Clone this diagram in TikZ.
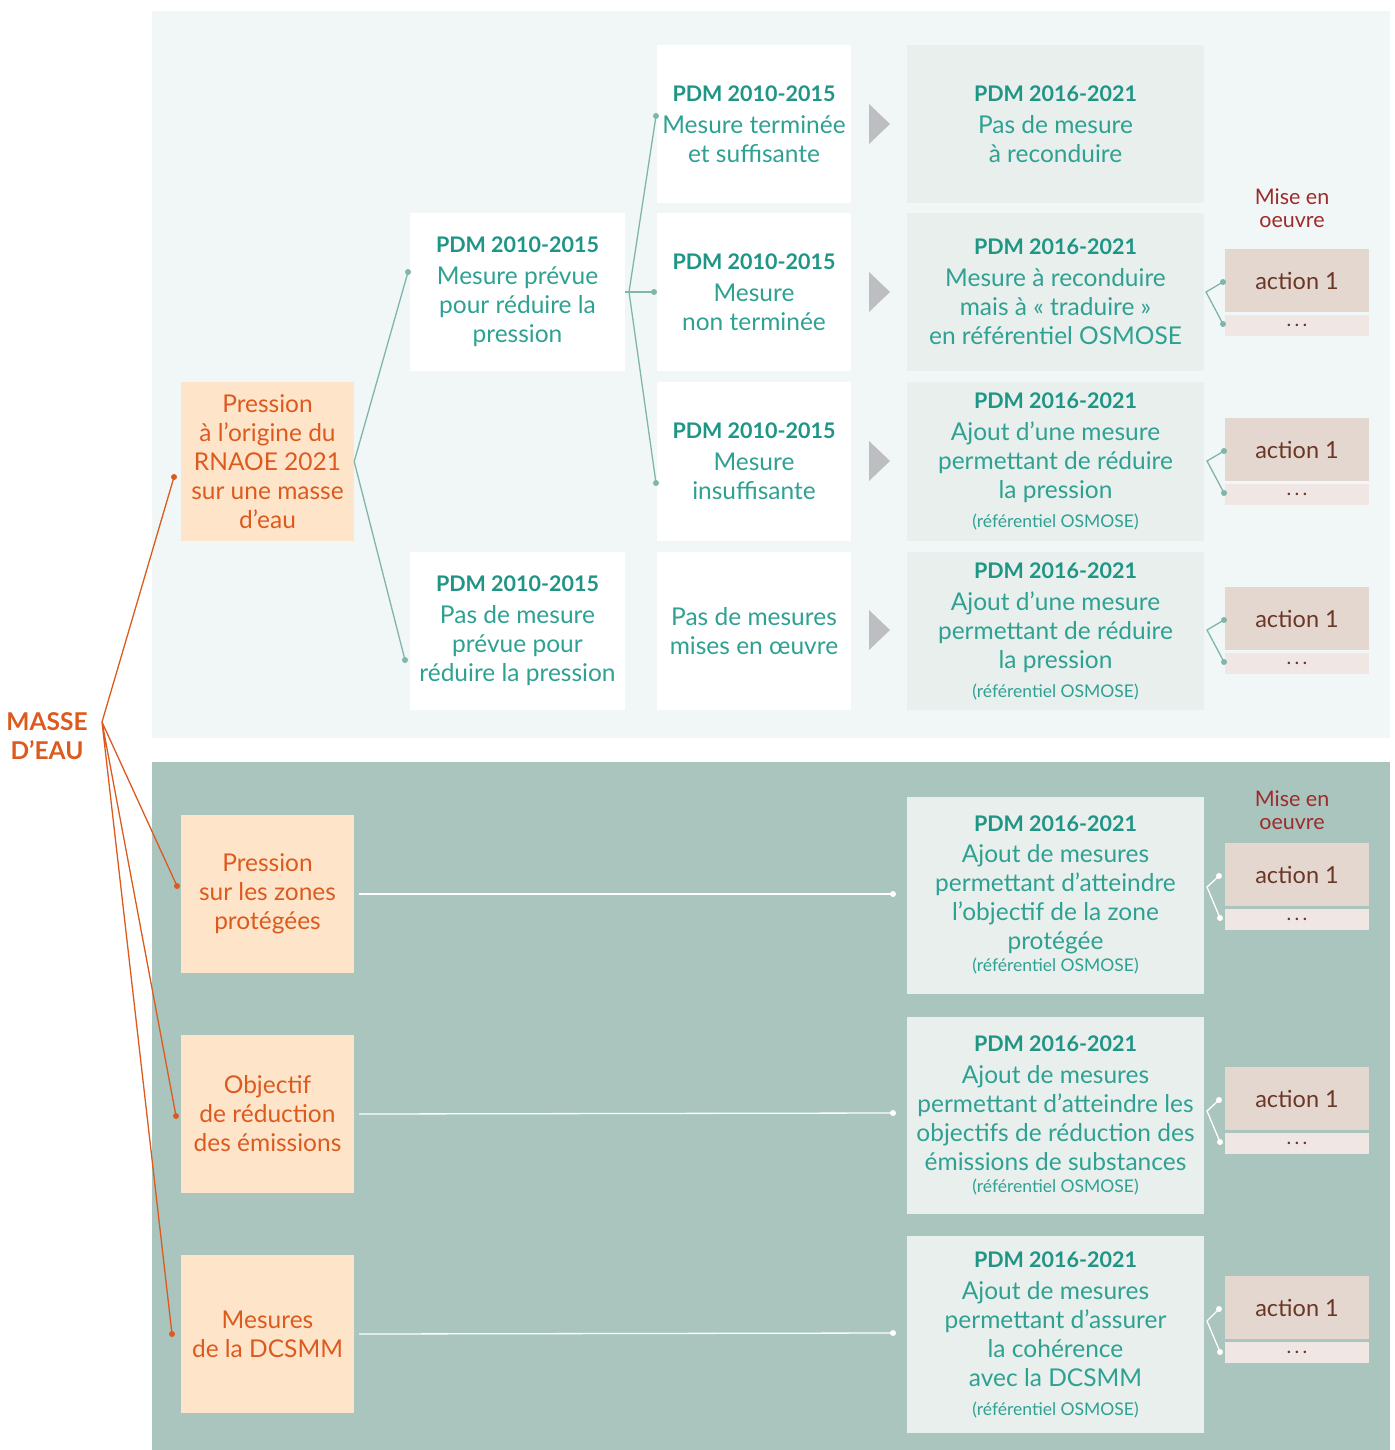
\documentclass[tikz,border=0pt]{standalone}
\usepackage{fontspec}
\setmainfont{Lato}
\definecolor{topbg}{HTML}{F1F7F6}
\definecolor{botbg}{HTML}{A9C5BE}
\definecolor{peach}{HTML}{FEE5C9}
\definecolor{orangetxt}{HTML}{DD5A1F}
\definecolor{tealhd}{HTML}{1F9585}
\definecolor{tealtxt}{HTML}{2FA192}
\definecolor{grayfill}{HTML}{E8EFED}
\definecolor{actfill}{HTML}{E4D7CF}
\definecolor{dotfill}{HTML}{F0E7E4}
\definecolor{acttxt}{HTML}{6B3626}
\definecolor{misetxt}{HTML}{9E2B2B}
\definecolor{tealline}{HTML}{80B6AA}
\definecolor{trigray}{HTML}{BDBEC2}
\newcommand{\pdmhd}[1]{{\fontsize{21.5}{29}\selectfont\bfseries\color{tealhd}#1}}
\newcommand{\refosm}[1]{{\fontsize{17.5}{29}\selectfont #1}}
\begin{document}
\begin{tikzpicture}[x=1pt,y=-1pt,
  bodyfont/.style={font=\fontsize{24.5}{29}\selectfont},
  orbox/.style={bodyfont,fill=peach,text=orangetxt,inner sep=0pt,align=center,minimum width=173pt},
  wbox/.style={bodyfont,fill=white,text=tealtxt,inner sep=0pt,align=center,minimum height=158pt},
  gbox/.style={bodyfont,fill=grayfill,text=tealtxt,inner sep=0pt,align=center,minimum width=297pt},
  actbox/.style={fill=actfill,text=acttxt,inner sep=0pt,minimum width=144pt,minimum height=63pt,font=\fontsize{23.5}{26}\selectfont},
  dotbox/.style={fill=dotfill,text=acttxt,inner sep=0pt,minimum width=144pt,minimum height=21pt,font=\fontsize{20}{20}\selectfont},
  mise/.style={text=misetxt,align=center,inner sep=0pt,font=\fontsize{21.5}{23}\selectfont},
  tconn/.style={draw=tealline,line width=1.3pt},
  wconn/.style={draw=white,line width=1.3pt},
  oconn/.style={draw=orangetxt,line width=1.3pt},
  tdot/.style={fill=tealline},
  wdot/.style={fill=white},
  odot/.style={fill=orangetxt},
  tri/.style={fill=trigray}
]
\useasboundingbox (0,0) rectangle (1394,1450);
% panels
\fill[topbg] (152,11) rectangle (1390,738);
\fill[botbg] (152,762) rectangle (1390,1450);

% title
\node[text=orangetxt,align=center,inner sep=0pt,font=\fontsize{24.5}{29}\selectfont\bfseries] (masse) at (47,736) {MASSE\\D’EAU};

% top section nodes
\node[orbox,minimum height=159pt] (press) at (267.5,461.5) {Pression\\à l’origine du\\RNAOE 2021\\sur une masse\\d’eau};
\node[wbox,minimum width=215pt] (c2a) at (517.5,292) {\pdmhd{PDM 2010-2015}\\[3pt]Mesure prévue\\pour réduire la\\pression};
\node[wbox,minimum width=215pt] (c2b) at (517.5,631) {\pdmhd{PDM 2010-2015}\\[3pt]Pas de mesure\\prévue pour\\réduire la pression};
\node[wbox,minimum width=194pt] (c3a) at (754,124) {\pdmhd{PDM 2010-2015}\\[3pt]Mesure terminée\\et suffisante};
\node[wbox,minimum width=194pt] (c3b) at (754,292) {\pdmhd{PDM 2010-2015}\\[3pt]Mesure\\non terminée};
\node[wbox,minimum width=194pt,minimum height=159pt] (c3c) at (754,461.5) {\pdmhd{PDM 2010-2015}\\[3pt]Mesure\\insuffisante};
\node[wbox,minimum width=194pt] (c3d) at (754,631) {Pas de mesures\\mises en œuvre};
\node[gbox,minimum height=158pt] (c4a) at (1055.5,124) {\pdmhd{PDM 2016-2021}\\[3pt]Pas de mesure\\à reconduire};
\node[gbox,minimum height=158pt] (c4b) at (1055.5,292) {\pdmhd{PDM 2016-2021}\\[3pt]Mesure à reconduire\\mais à « traduire »\\en référentiel OSMOSE};
\node[gbox,minimum height=159pt] (c4c) at (1055.5,461.5) {\pdmhd{PDM 2016-2021}\\[3pt]Ajout d’une mesure\\permettant de réduire\\la pression\\\refosm{(référentiel OSMOSE)}};
\node[gbox,minimum height=158pt] (c4d) at (1055.5,631) {\pdmhd{PDM 2016-2021}\\[3pt]Ajout d’une mesure\\permettant de réduire\\la pression\\\refosm{(référentiel OSMOSE)}};

% triangles
\fill[tri] (869,104) -- (890,124) -- (869,144) -- cycle;
\fill[tri] (869,272) -- (890,292) -- (869,312) -- cycle;
\fill[tri] (869,441) -- (890,461) -- (869,481) -- cycle;
\fill[tri] (869,610) -- (890,630) -- (869,650) -- cycle;

% action boxes top
\node[mise] (mise1) at (1292,208) {Mise en\\oeuvre};
\node[actbox] (a2) at (1297,280.5) {action 1};
\node[dotbox] (d2) at (1297,325.5) {.\,.\,.};
\node[actbox] (a3) at (1297,449.5) {action 1};
\node[dotbox] (d3) at (1297,494.5) {.\,.\,.};
\node[actbox] (a4) at (1297,618.5) {action 1};
\node[dotbox] (d4) at (1297,663.5) {.\,.\,.};

% bottom section nodes
\node[orbox,minimum height=158pt] (p1) at (267.5,894) {Pression\\sur les zones\\protégées};
\node[orbox,minimum height=158pt] (p2) at (267.5,1114) {Objectif\\de réduction\\des émissions};
\node[orbox,minimum height=158pt] (p3) at (267.5,1334) {Mesures\\de la DCSMM};
\node[gbox,minimum height=197pt] (b1) at (1055.5,895) {\pdmhd{PDM 2016-2021}\\[2pt]Ajout de mesures\\permettant d’atteindre\\l’objectif de la zone\\protégée\\[-7pt]\refosm{(référentiel OSMOSE)}};
\node[gbox,minimum height=197pt] (b2) at (1055.5,1115) {\pdmhd{PDM 2016-2021}\\[3pt]Ajout de mesures\\permettant d’atteindre les\\objectifs de réduction des\\émissions de substances\\[-7pt]\refosm{(référentiel OSMOSE)}};
\node[gbox,minimum height=197pt] (b3) at (1055.5,1334.5) {\pdmhd{PDM 2016-2021}\\[3pt]Ajout de mesures\\permettant d’assurer\\la cohérence\\avec la DCSMM\\\refosm{(référentiel OSMOSE)}};

\node[mise] (mise2) at (1292,810) {Mise en\\oeuvre};
\node[actbox] (ba1) at (1297,874.5) {action 1};
\node[dotbox] (bd1) at (1297,919.5) {.\,.\,.};
\node[actbox] (ba2) at (1297,1098.5) {action 1};
\node[dotbox] (bd2) at (1297,1143.5) {.\,.\,.};
\node[actbox] (ba3) at (1297,1307.5) {action 1};
\node[dotbox] (bd3) at (1297,1352.5) {.\,.\,.};

% coordinates for connectors
\coordinate (apex) at (102,722);
\coordinate (o0) at (174,477);
\coordinate (o1) at (177,886);
\coordinate (o2) at (176,1116);
\coordinate (o3) at (172,1334);
\coordinate (j1) at (408,272);
\coordinate (j2) at (405,660);
\coordinate (k) at (629,292);
\coordinate (k1) at (656,116);
\coordinate (k2) at (654,292);
\coordinate (k3) at (656,483);
\coordinate (ap2) at (1206,292);
\coordinate (ap2a) at (1223,282);
\coordinate (ap2b) at (1223,324);
\coordinate (ap3) at (1207,461);
\coordinate (ap3a) at (1224,451);
\coordinate (ap3b) at (1224,493);
\coordinate (ap4) at (1207,630);
\coordinate (ap4a) at (1224,620);
\coordinate (ap4b) at (1224,662);
\coordinate (w1) at (893,894);
\coordinate (w2) at (893,1113);
\coordinate (w3) at (893,1333);
\coordinate (bp1) at (1207,887);
\coordinate (bp1a) at (1219,876);
\coordinate (bp1b) at (1220,918);
\coordinate (bp2) at (1207,1111);
\coordinate (bp2a) at (1219,1100);
\coordinate (bp2b) at (1220,1142);
\coordinate (bp3) at (1207,1321);
\coordinate (bp3a) at (1219,1309);
\coordinate (bp3b) at (1220,1352);

% orange connectors
\draw[oconn] (o0) -- (apex) -- (o1) (apex) -- (o2) (apex) -- (o3);
\foreach \c in {o0,o1,o2,o3} \fill[odot] (\c) circle (3pt);

% teal connectors
\draw[tconn] (j1) -- (press.east) -- (j2);
\draw[tconn] (c2a.east) -- (k) -- (k2);
\draw[tconn] (k1) -- (k) -- (k3);
\foreach \c in {j1,j2,k1,k2,k3} \fill[tdot] (\c) circle (3pt);
\draw[tconn] (ap2a) -- (ap2) -- (ap2b);
\draw[tconn] (ap3a) -- (ap3) -- (ap3b);
\draw[tconn] (ap4a) -- (ap4) -- (ap4b);
\foreach \c in {ap2a,ap2b,ap3a,ap3b,ap4a,ap4b} \fill[tdot] (\c) circle (3pt);

% white connectors
\draw[wconn] ([xshift=5pt]p1.east) -- (w1);
\draw[wconn] ([xshift=5pt]p2.east) -- (w2);
\draw[wconn] ([xshift=5pt]p3.east) -- (w3);
\draw[wconn] (bp1a) -- (bp1) -- (bp1b);
\draw[wconn] (bp2a) -- (bp2) -- (bp2b);
\draw[wconn] (bp3a) -- (bp3) -- (bp3b);
\foreach \c in {w1,w2,w3,bp1a,bp1b,bp2a,bp2b,bp3a,bp3b} \fill[wdot] (\c) circle (3pt);
\end{tikzpicture}
\end{document}
